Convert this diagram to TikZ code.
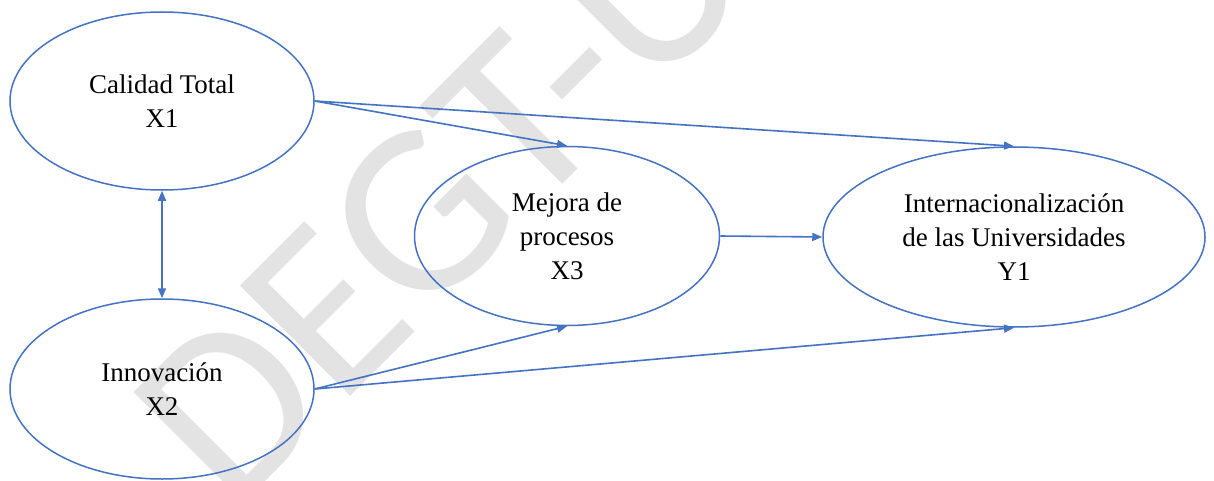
\documentclass[tikz,border=0pt]{standalone}
\usepackage{fontspec}
\setmainfont{Liberation Serif}
\newfontfamily\wmfont{Carlito}
\usetikzlibrary{arrows.meta,shapes.geometric}
\definecolor{wordblue}{HTML}{4472C4}
\definecolor{wmgray}{HTML}{E3E3E3}
\begin{document}
\begin{tikzpicture}[x=1pt,y=-1pt,
  latent/.style={ellipse, draw=wordblue, line width=1.5pt, minimum width=304pt,
    minimum height=178pt, inner sep=0pt, align=center,
    font=\fontsize{27}{34}\selectfont, text=black},
  link/.style={draw=wordblue, line width=1.6pt, -{Triangle[length=10pt,width=8pt]}},
  biglink/.style={draw=wordblue, line width=1.6pt, {Triangle[length=10pt,width=8pt]}-{Triangle[length=10pt,width=8pt]}},
  watermark/.style={text=wmgray, font=\wmfont\fontsize{243}{243}\selectfont, inner sep=0pt, rotate=45, anchor=base}
]
\useasboundingbox (0,0) rectangle (1214,481);
\fill[white] (0,0) rectangle (1214,481);
\begin{scope}
  \clip (0,0) rectangle (1214,481);
  \node[watermark] (wm) at (497,250) {DEGT-U};
\end{scope}
\node[latent] (x1) at (162,101) {Calidad Total\\X1};
\node[latent, minimum height=180pt] (x2) at (162,389) {Innovación\\X2};
\node[latent, minimum width=305pt, minimum height=179pt] (x3) at (567,236) {Mejora de\\procesos\\X3};
\node[latent, minimum width=382pt, minimum height=180pt] (y1) at (1014,237) {Internacionalización\\de las Universidades\\Y1};
\draw[link] (x1.east) -- (x3.north);
\draw[link] (x1.east) -- (y1.north);
\draw[link] (x2.east) -- (x3.south);
\draw[link] (x2.east) -- (y1.south);
\draw[link] (x3.east) -- (y1.west);
\draw[biglink] (x1.south) -- (x2.north);
\end{tikzpicture}
\end{document}
